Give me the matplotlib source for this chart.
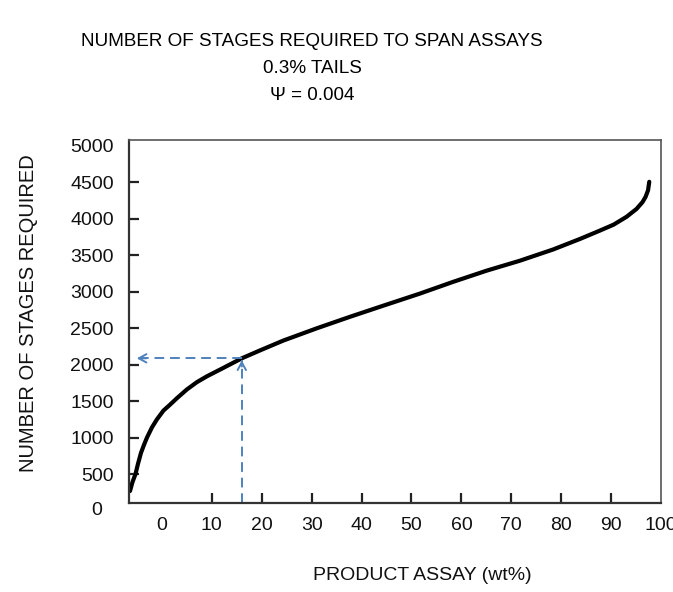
import matplotlib
matplotlib.use("Agg")
import matplotlib.pyplot as plt
import matplotlib.transforms as mtransforms

plt.rcParams['font.family'] = ['Liberation Sans', 'DejaVu Sans']

# ---- data ----
assay = [-6.4, -5.9, -5.3, -4.8, -4.2, -3.6, -3.0, -2.0, -1.0, 0.3, 1.6, 3.0,
         5.0, 7.0, 9.0, 12.0, 16.0, 19.6, 24.3, 31.0, 37.7, 44.4, 51.7, 58.4,
         65.1, 71.7, 78.4, 83.8, 87.8, 90.5, 93.1, 95.1, 96.3, 96.9, 97.4, 97.65]
stages = [267, 390, 500, 640, 790, 900, 1000, 1140, 1250, 1370, 1450, 1540,
          1660, 1760, 1840, 1945, 2087, 2194, 2330, 2498, 2657, 2810, 2975, 3137,
          3290, 3425, 3580, 3725, 3840, 3920, 4028, 4136, 4230, 4300, 4390, 4508]

x_ticks = [0, 10, 20, 30, 40, 50, 60, 70, 80, 90, 100]
y_ticks = [500, 1000, 1500, 2000, 2500, 3000, 3500, 4000, 4500, 5000]

marker_assay = 16.0      # dashed guide: product assay
marker_stages = 2087     # dashed guide: stages required
guide_left = -5.6        # where the horizontal arrow ends

title_lines = ["NUMBER OF STAGES REQUIRED TO SPAN ASSAYS", "0.3% TAILS", "\u03a8 = 0.004"]
x_label = "PRODUCT ASSAY (wt%)"
y_label = "NUMBER OF STAGES REQUIRED"

W, H = 673, 592
fig = plt.figure(figsize=(W / 100, H / 100), dpi=100)
ax = fig.add_axes([129 / W, 1 - 503 / H, (661 - 129) / W, (503 - 140) / H])

ax.plot(assay, stages, color='black', lw=3.0, solid_capstyle='round',
        solid_joinstyle='round')

ax.set_xlim(-6.6, 100.0)
ax.set_ylim(103, 5081)

blue = '#4f81bd'
ax.plot([marker_assay, marker_assay], [103, marker_stages - 20], color=blue, lw=1.4,
        linestyle=(0, (5, 3)))
ax.plot([marker_assay, guide_left + 0.6], [marker_stages, marker_stages], color=blue, lw=1.4,
        linestyle=(0, (5, 3)))
ax.annotate('', xy=(marker_assay, marker_stages + 10), xytext=(marker_assay, marker_stages - 150),
            arrowprops=dict(arrowstyle='->,head_length=0.55,head_width=0.3', color=blue, lw=1.4))
ax.annotate('', xy=(guide_left, marker_stages), xytext=(guide_left + 3, marker_stages),
            arrowprops=dict(arrowstyle='->,head_length=0.55,head_width=0.3', color=blue, lw=1.4))

ax.set_xticks(x_ticks)
ax.set_xticklabels([str(v) for v in x_ticks])
ax.set_yticks(y_ticks)
ax.set_yticklabels([str(v) for v in y_ticks])
ax.tick_params(axis='both', direction='in', length=7.5, width=1.6, color='#222222',
               labelsize=14, labelcolor='#111111')
ax.tick_params(axis='x', pad=10)
ax.tick_params(axis='y', pad=11)
for t in ax.xaxis.get_major_ticks():
    if t.get_loc() in (0, 100):
        t.tick1line.set_visible(False)
for t in ax.yaxis.get_major_ticks():
    if t.get_loc() == 5000:
        t.tick1line.set_visible(False)

# label for zero on the stage axis (sits below the drawn axis range)
trans = mtransforms.blended_transform_factory(ax.transAxes, ax.transData)
ax.text((97 - 129) / 532, 0, "0", transform=trans, ha='center', va='center',
        fontsize=14, color='#111111', clip_on=False)

for side in ('left', 'bottom'):
    ax.spines[side].set_linewidth(1.6)
    ax.spines[side].set_color('#333333')
for side in ('top', 'right'):
    ax.spines[side].set_linewidth(1.2)
    ax.spines[side].set_color('#555555')

ys = [41.3, 68.5, 95.5]
for line, yp in zip(title_lines, ys):
    fig.text(312 / W, 1 - yp / H, line, ha='center', va='center', fontsize=13.6, color='#000000')

fig.text(29 / W, 1 - 313 / H, y_label, rotation=90, ha='center', va='center',
         fontsize=14.5, color='#111111')
fig.text(422.5 / W, 1 - 575 / H, x_label, ha='center', va='center',
         fontsize=14, color='#111111')

fig.savefig('out.png', dpi=100, facecolor='white')
